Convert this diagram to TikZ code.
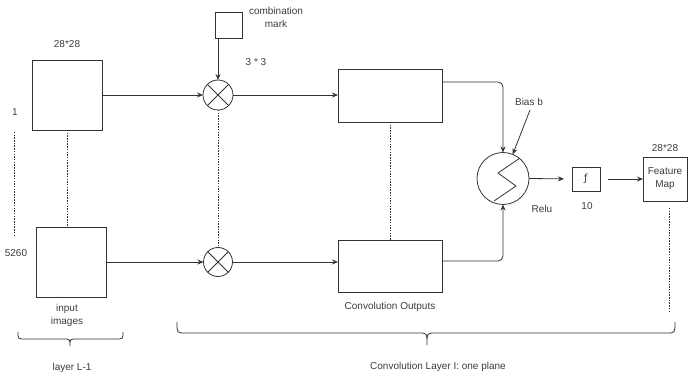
\documentclass[tikz,border=0pt]{standalone}
\usepackage{fontspec}
\setmainfont{Liberation Sans}
\newfontfamily\djv{DejaVu Sans}
\usetikzlibrary{arrows.meta,calc}
\definecolor{ln}{HTML}{333333}
\definecolor{tx}{HTML}{3C3C3C}
\begin{document}
\begin{tikzpicture}[x=1pt,y=-1pt,
  every node/.style={inner sep=0pt, outer sep=0pt, font=\fontsize{10}{13}\selectfont, text=tx},
  boxx/.style={draw=ln, line width=0.8pt, rectangle},
  circ/.style={draw=ln, line width=0.8pt, circle},
  arr/.style={draw=ln, line width=0.8pt, -{Stealth[length=6pt,width=5pt]}},
  dots/.style={draw=ln, line width=0.9pt, dash pattern=on 1.5pt off 1.2pt},
  ln/.style={draw=ln, line width=0.8pt}]
\useasboundingbox (0,0) rectangle (694,374);
% boxes
\node[boxx, minimum width=70pt, minimum height=70pt] (box1) at (67,95) {};
\node[boxx, minimum width=70pt, minimum height=70pt] (box2) at (71,262) {};
\node[boxx, minimum width=27pt, minimum height=26pt] (mark) at (228.5,25) {};
\node[circ, minimum size=30pt] (mul1) at (218,95) {};
\node[circ, minimum size=29pt] (mul2) at (218,262) {};
\node[boxx, minimum width=104pt, minimum height=53pt] (conv1) at (390,95.5) {};
\node[boxx, minimum width=104pt, minimum height=52pt] (conv2) at (390,266) {};
\node[circ, minimum size=52pt] (relu) at (503,178.5) {};
\node[boxx, minimum width=28pt, minimum height=24pt] (fbox) at (586,179) {\djv ƒ};
\node[boxx, minimum width=44pt, minimum height=44pt, align=center] (fmap) at (665,179) {Feature\\Map};
% crosses
\draw[ln] (mul1.45) -- (mul1.225) (mul1.135) -- (mul1.315);
\draw[ln] (mul2.45) -- (mul2.225) (mul2.135) -- (mul2.315);
% relu symbol
\draw[ln] ($(relu.center)+(17,-20.5)$) -- ($(relu.center)+(-5,-5.5)$) -- ($(relu.center)+(13,7.5)$) -- ($(relu.center)+(-9,22.5)$);
% labels
\node (t1) at (67,44) {28*28};
\node (one) at (15,112) {1};
\node (n5260) at (16,253) {5260};
\node[align=center] (comb) at (276,17.5) {combination\\mark};
\node (k33) at (256,62) {3 * 3};
\node (bias) at (529,102) {Bias b};
\node (relut) at (542,209) {Relu};
\node (ten) at (587,206) {10};
\node (t2) at (665,148) {28*28};
\node[align=center] (inp) at (67,315) {input\\images};
\node (cout) at (390,307) {Convolution Outputs};
\node (layer) at (438,367) {Convolution Layer I: one plane};
\node (layerL) at (72,368) {layer L-1};
% coordinates
\coordinate (ld1) at (14,132);
\coordinate (ld2) at (14,235);
\coordinate (bs) at (530,110);
\coordinate (fmd) at (669,312);
% connectors
\draw[arr] (box1.east) -- (mul1.west);
\draw[arr] (mark.south west -| mul1.north) -- (mul1.north);
\draw[arr] (mul1.east) -- (mul1.east -| conv1.west);
\draw[arr] (box2.east) -- (mul2.west);
\draw[arr] (mul2.east) -- (mul2.east -| conv2.west);
\draw[dots] (box1.south) -- (box1.south |- box2.north);
\draw[dots] (mul1.south) -- (mul2.north);
\draw[dots] (conv1.south) -- (conv2.north);
\draw[dots] (ld1) -- (ld2);
\draw[dots] ($(fmap.south)+(4,7)$) -- (fmd);
\draw[arr, rounded corners=5pt] ($(conv1.north east)+(0,13)$) -| (relu.north);
\draw[arr, rounded corners=5pt] ($(conv2.north east)+(0,21)$) -| (relu.south);
\draw[arr] (bs) -- (relu.68);
\draw[arr, shorten >=8pt] (relu.east) -- (fbox.west);
\draw[arr, shorten <=8pt] (fbox.east) -- (fmap.west);
% braces
\draw[ln] (18,332) .. controls (18,339) .. (25,339) -- (63,339) .. controls (70,339) .. (70,346) .. controls (70,339) .. (77,339) -- (116,339) .. controls (123,339) .. (123,332);
\draw[ln] (177,322) .. controls (177,333) .. (185,333) -- (419,333) .. controls (427,333) .. (427,345) .. controls (427,333) .. (435,333) -- (667,333) .. controls (675,333) .. (675,322);
\end{tikzpicture}
\end{document}
